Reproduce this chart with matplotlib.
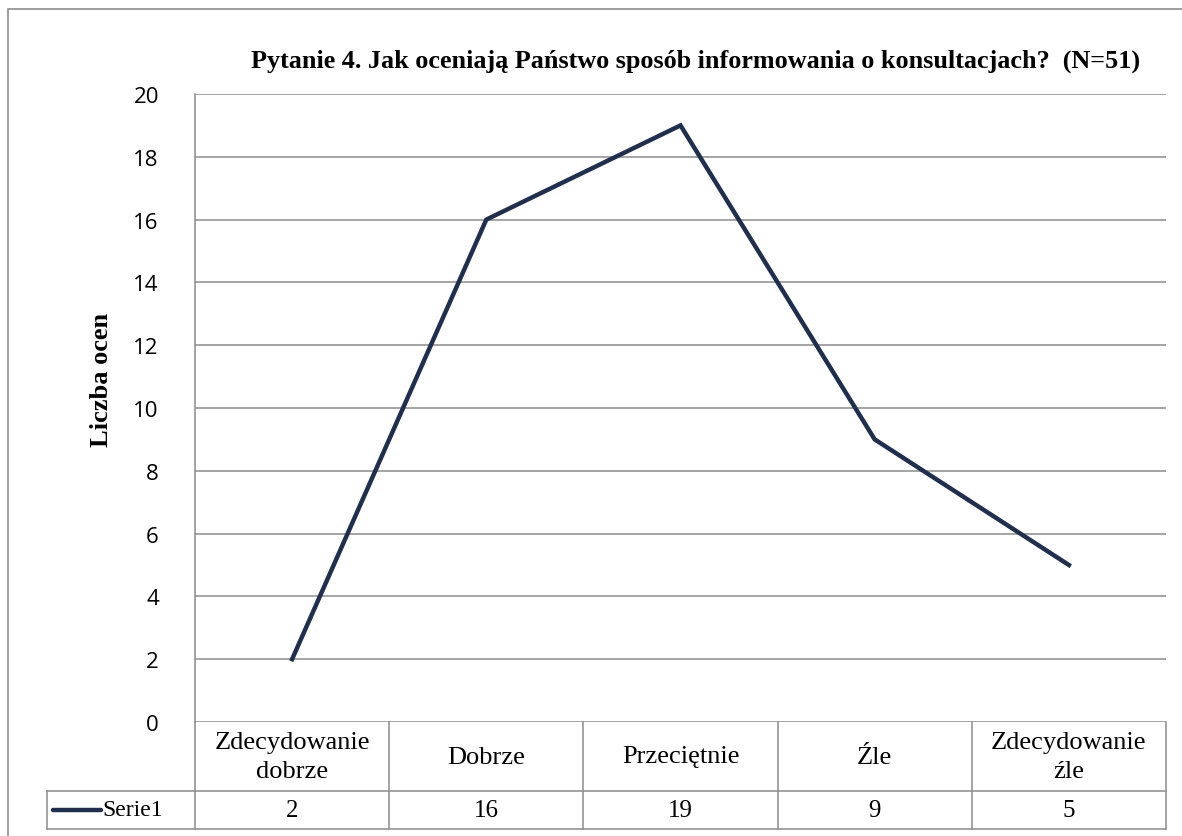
import matplotlib
matplotlib.use("Agg")
import matplotlib.pyplot as plt
from matplotlib.transforms import blended_transform_factory
from matplotlib.lines import Line2D
from matplotlib.patches import Rectangle

categories = ["Zdecydowanie\ndobrze", "Dobrze", "Przeciętnie", "Źle", "Zdecydowanie\nźle"]
values = [2, 16, 19, 9, 5]
series_name = "Serie1"
yticks = [0, 2, 4, 6, 8, 10, 12, 14, 16, 18, 20]
title = "Pytanie 4. Jak oceniają Państwo sposób informowania o konsultacjach?  (N=51)"
ylabel = "Liczba ocen"

W, H = 1182, 837
fig = plt.figure(figsize=(W / 100, H / 100), dpi=100)
grid_c = "#8c8c8c"
line_c = "#1f2f4d"

# outer border
fig.add_artist(Rectangle((8 / W, -0.1), 1.2, (H - 10) / H + 0.1, transform=fig.transFigure,
                         fill=False, edgecolor=grid_c, lw=1.2))

L, R, T, B = 195, 1166, 95, 723
ax = fig.add_axes([L / W, 1 - B / H, (R - L) / W, (B - T) / H])
x = list(range(len(categories)))
ax.plot(x, values, color=line_c, lw=3.2, solid_joinstyle="miter", zorder=3)
ax.set_xlim(-0.5, len(categories) - 0.5)
ax.set_ylim(0, 20)
ax.set_yticks(yticks)
ax.set_yticklabels([str(v) for v in yticks], fontfamily="Open Sans", fontsize=16)
ax.tick_params(axis="y", length=0, pad=26)
ax.set_xticks([])
for v in yticks:
    ax.axhline(v, color=grid_c, lw=1.1, zorder=1)
for s in ["top", "right", "bottom"]:
    ax.spines[s].set_visible(False)
ax.spines["left"].set_color(grid_c)
ax.spines["left"].set_linewidth(1.1)

fig.text(102 / W, 1 - 380 / H, ylabel, rotation=90, ha="center", va="center",
         fontfamily="Liberation Serif", fontweight="bold", fontsize=19)
fig.text(696 / W, 1 - 61 / H, title, ha="center", va="center",
         fontfamily="Liberation Serif", fontweight="bold", fontsize=18.8)

# data table
tr = blended_transform_factory(ax.transData, ax.transAxes)
ph = B - T
y_hdr = -69 / ph
y_bot = -107 / ph
n = len(categories)
kw = dict(transform=tr, color=grid_c, lw=1.1, clip_on=False)
ax.add_line(Line2D([-0.5, n - 0.5], [y_hdr, y_hdr], **kw))
ax.add_line(Line2D([-0.5, n - 0.5], [y_bot, y_bot], **kw))
for i in range(n + 1):
    ax.add_line(Line2D([i - 0.5, i - 0.5], [0, y_bot], **kw))
figx = blended_transform_factory(fig.transFigure, ax.transAxes)
lk = dict(transform=figx, color=grid_c, lw=1.1, clip_on=False)
ax.add_line(Line2D([47 / W, L / W], [y_hdr, y_hdr], **lk))
ax.add_line(Line2D([47 / W, L / W], [y_bot, y_bot], **lk))
ax.add_line(Line2D([47 / W, 47 / W], [y_hdr, y_bot], **lk))
ymid = (y_hdr + y_bot) / 2
ax.add_line(Line2D([53 / W, 101 / W], [ymid] * 2, transform=figx, color=line_c, lw=3.2,
                   solid_capstyle="round", clip_on=False))
ax.text(102 / W, ymid, series_name, transform=figx, ha="left", va="center",
        fontfamily="Liberation Serif", fontsize=17)

for i, (c, v) in enumerate(zip(categories, values)):
    ax.text(i, y_hdr / 2, c, transform=tr, ha="center", va="center", linespacing=1.4,
            fontfamily="Liberation Serif", fontsize=19)
    ax.text(i, ymid, str(v), transform=tr, ha="center", va="center",
            fontfamily="Liberation Serif", fontsize=18)

fig.savefig("out.png", dpi=100)
